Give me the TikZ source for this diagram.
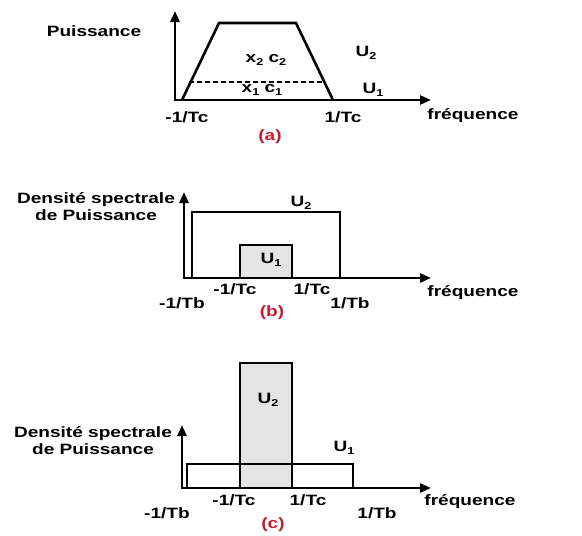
\documentclass[tikz,border=0pt]{standalone}
\usepackage{fontspec}
\setmainfont[FakeStretch=1.27]{Liberation Sans}
\usetikzlibrary{arrows.meta}
\definecolor{lblred}{RGB}{200,30,50}
\definecolor{fillg}{RGB}{228,228,228}
\newcommand{\dn}[1]{\raisebox{-0.35ex}{\fontsize{10}{10}\selectfont #1}}
\begin{document}
\begin{tikzpicture}[x=1pt,y=-1pt,
  font=\bfseries\fontsize{15}{17}\selectfont,
  axis/.style={line width=2.6pt,{Triangle[length=11pt,width=9pt]}-{Triangle[length=11pt,width=9pt]}},
  curve/.style={line width=2.6pt,line join=miter},
  band/.style={line width=2.1pt},
  txt/.style={inner sep=0pt,anchor=center},
  redlabel/.style={txt,text=lblred},
  stack/.style={txt,align=center,font=\bfseries\fontsize{15}{17}\selectfont}]
\useasboundingbox (0,0) rectangle (582,536);
% ---------- (a)
\coordinate (aY) at (175,11);
\coordinate (aO) at (175,100);
\coordinate (aX) at (431,100);
\coordinate (t1) at (182,100);
\coordinate (t2) at (219,23);
\coordinate (t3) at (296,23);
\coordinate (t4) at (333,100);
\coordinate (d1) at (189,82);
\coordinate (d2) at (325,82);
\draw[curve] (t1) -- (t2) -- (t3) -- (t4);
\draw[line width=1.5pt,dash pattern=on 5pt off 3pt] (d1) -- (d2);
\draw[axis] (aY) -- (aO) -- (aX);
\node[txt] (pa) at (94,31) {Puissance};
\node[txt] (x2) at (266,60) {x\dn{2} c\dn{2}};
\node[txt] (x1) at (262,90) {x\dn{1} c\dn{1}};
\node[txt] (ua2) at (366,53) {U\dn{2}};
\node[txt] (ua1) at (373,90) {U\dn{1}};
\node[txt] (ma) at (187,117) {-1/Tc};
\node[txt] (pa2) at (343,117) {1/Tc};
\node[txt] (fa) at (473,116) {fréquence};
\node[redlabel] (ca) at (270,137) {(a)};
% ---------- (b)
\coordinate (bY) at (184,192);
\coordinate (bO) at (184,278);
\coordinate (bX) at (431,278);
\coordinate (b2a) at (192,212);
\coordinate (b2b) at (340,278);
\coordinate (b1a) at (240,245);
\coordinate (b1b) at (292,278);
\draw[band] (b2a) rectangle (b2b);
\draw[band,fill=fillg] (b1a) rectangle (b1b);
\draw[axis] (bY) -- (bO) -- (bX);
\node[stack] (db) at (96,207) {Densité spectrale\\de Puissance};
\node[txt] (ub2) at (301,203) {U\dn{2}};
\node[txt] (ub1) at (271,260) {U\dn{1}};
\node[txt] (mbc) at (235,289) {-1/Tc};
\node[txt] (pbc) at (312,289) {1/Tc};
\node[txt] (mbb) at (182,303) {-1/Tb};
\node[txt] (pbb) at (350,303) {1/Tb};
\node[txt] (fb) at (473,293) {fréquence};
\node[redlabel] (cb) at (272,313) {(b)};
% ---------- (c)
\coordinate (cY) at (182,425);
\coordinate (cO) at (182,488);
\coordinate (cX) at (431,488);
\coordinate (c2a) at (240,363);
\coordinate (c2b) at (292,488);
\coordinate (c1a) at (187,464);
\coordinate (c1b) at (353,488);
\draw[band,fill=fillg] (c2a) rectangle (c2b);
\draw[band] (c1a) rectangle (c1b);
\draw[axis] (cY) -- (cO) -- (cX);
\node[stack] (dc) at (93,441) {Densité spectrale\\de Puissance};
\node[txt] (uc2) at (268,400) {U\dn{2}};
\node[txt] (uc1) at (344,448) {U\dn{1}};
\node[txt] (mcc) at (234,500) {-1/Tc};
\node[txt] (pcc) at (308,500) {1/Tc};
\node[txt] (mcb) at (167,513) {-1/Tb};
\node[txt] (pcb) at (377,513) {1/Tb};
\node[txt] (fc) at (470,502) {fréquence};
\node[redlabel] (cc) at (273,525) {(c)};
\end{tikzpicture}
\end{document}
